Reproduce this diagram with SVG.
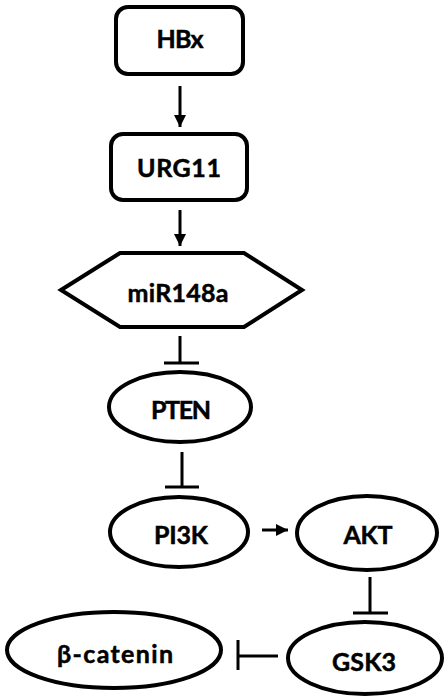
<svg xmlns="http://www.w3.org/2000/svg" width="448" height="700" viewBox="0 0 448 700">
<style>
.n{fill:#fff;stroke:#000;stroke-width:4}
.t{font-family:Lato,"Open Sans","Liberation Sans",sans-serif;font-weight:bold;font-size:25px;text-anchor:middle;fill:#000;stroke:#000;stroke-width:0.5}
.c{stroke:#000;stroke-width:3;fill:none}
</style>
<defs>
<marker id="arr" markerWidth="4" markerHeight="4" refX="4" refY="2" orient="auto" markerUnits="strokeWidth">
<path d="M0,0 L4,2 L0,4 Z" fill="#000"/>
</marker>
</defs>
<rect width="448" height="700" fill="#fff"/>
<g id="connectors">
<line class="c" x1="180" y1="86" x2="180" y2="127" marker-end="url(#arr)"/>
<line class="c" x1="180" y1="210" x2="180" y2="246" marker-end="url(#arr)"/>
<line class="c" x1="180" y1="336" x2="180" y2="363"/>
<line class="c" x1="164" y1="363" x2="199" y2="363"/>
<line class="c" x1="182" y1="452" x2="182" y2="487"/>
<line class="c" x1="165" y1="487" x2="199" y2="487"/>
<line class="c" x1="262" y1="530" x2="288" y2="530" marker-end="url(#arr)"/>
<line class="c" x1="370" y1="577" x2="370" y2="613"/>
<line class="c" x1="353" y1="613" x2="388" y2="613"/>
<line class="c" x1="278" y1="656" x2="238" y2="656"/>
<line class="c" x1="238" y1="640" x2="238" y2="670"/>
</g>
<g id="HBx"><rect class="n" x="116" y="7" width="127" height="67" rx="12"/><text class="t" x="180" y="48" textLength="47">HBx</text></g>
<g id="URG11"><rect class="n" x="111" y="134" width="136" height="66" rx="12"/><text class="t" x="179" y="177" textLength="84">URG11</text></g>
<g id="miR148a"><polygon class="n" points="61,290 120,253 244,253 302,290 244,327 120,327"/><text class="t" x="178" y="302" textLength="101">miR148a</text></g>
<g id="PTEN"><ellipse class="n" cx="180" cy="407" rx="71" ry="35"/><text class="t" x="181" y="419" textLength="60">PTEN</text></g>
<g id="PI3K"><ellipse class="n" cx="179" cy="532" rx="69" ry="35"/><text class="t" x="181" y="544" textLength="54">PI3K</text></g>
<g id="AKT"><ellipse class="n" cx="367" cy="533" rx="70" ry="37"/><text class="t" x="368" y="544" textLength="49">AKT</text></g>
<g id="GSK3"><ellipse class="n" cx="365" cy="658" rx="77" ry="36"/><text class="t" x="364" y="671" textLength="64">GSK3</text></g>
<g id="b-catenin"><ellipse class="n" cx="114" cy="650" rx="107" ry="38"/><text class="t" x="115" y="663" textLength="116">β-catenin</text></g>
</svg>
